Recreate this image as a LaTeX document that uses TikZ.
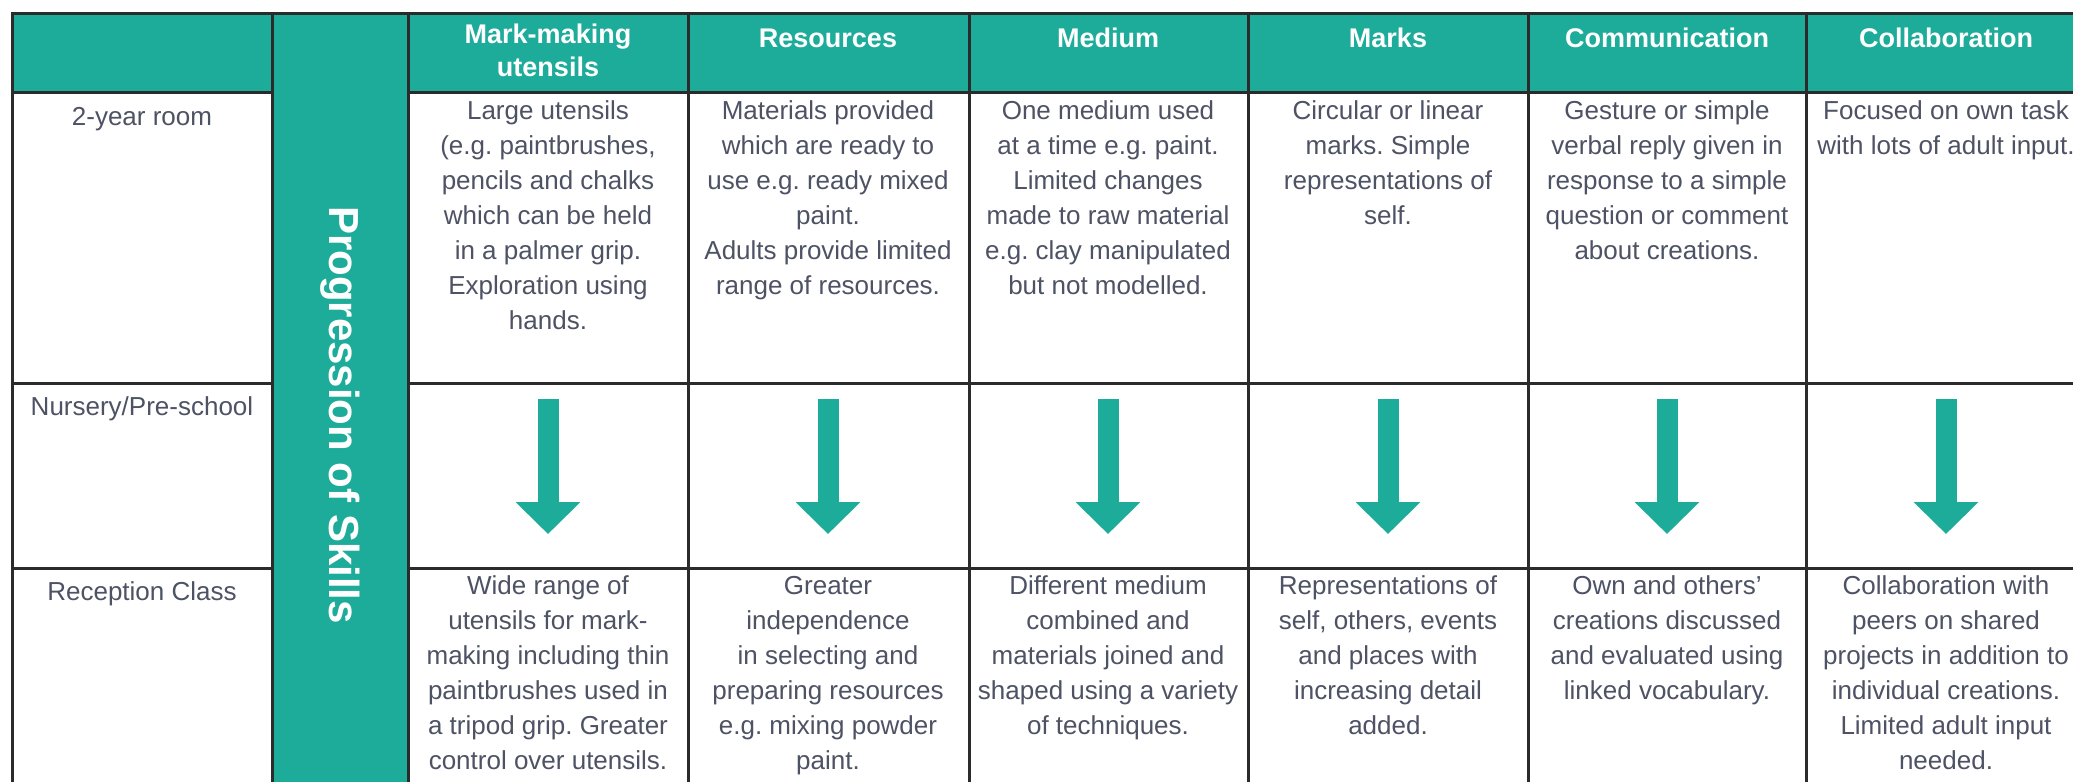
\documentclass[tikz,border=0pt]{standalone}
\usepackage{fontspec}
\setmainfont{Liberation Sans}
\usetikzlibrary{arrows.meta}
\definecolor{skillteal}{HTML}{1EAC9A}
\definecolor{celltext}{HTML}{4D5264}
\definecolor{gridline}{HTML}{2B2B2B}
\frenchspacing

\begin{document}
\begin{tikzpicture}[x=0.5pt, y=-0.5pt,
    head/.style={anchor=north, align=center, inner sep=0pt, text=white, font=\fontsize{13.5}{16.5}\selectfont\bfseries, execute at begin node=\strut},
    cell/.style={anchor=north, align=center, inner sep=0pt, text=celltext, font=\fontsize{13}{17.5}\selectfont, execute at begin node=\strut},
    gridrule/.style={draw=gridline, line width=1.5pt, line cap=rect},
    progarrow/.style={draw=skillteal, line width=10.5pt, -{Triangle[width=31.5pt,length=16pt]}}]
        \useasboundingbox (0,0) rectangle (2073,782);
        \clip (0,0) rectangle (2073,782);
        \fill[white] (0,0) rectangle (2073,782);
        % teal header band and the side column
        \fill[skillteal] (12,13) rectangle (2086,92);
        \fill[skillteal] (272,13) rectangle (408,830);
        % table rules
        \draw[gridrule] (12,13) -- (2086,13);
        \draw[gridrule] (12,92) -- (272,92) (408,92) -- (2086,92);
        \draw[gridrule] (12,383) -- (272,383) (408,383) -- (2086,383);
        \draw[gridrule] (12,568) -- (272,568) (408,568) -- (2086,568);
        \draw[gridrule] (12,13) -- (12,830);
        \draw[gridrule] (272,13) -- (272,830);
        \draw[gridrule] (408,13) -- (408,830);
        \draw[gridrule] (688,13) -- (688,830);
        \draw[gridrule] (969,13) -- (969,830);
        \draw[gridrule] (1248,13) -- (1248,830);
        \draw[gridrule] (1528,13) -- (1528,830);
        \draw[gridrule] (1806,13) -- (1806,830);
        % header
        \node[head] (hmark) at (548,24) {Mark-making\\utensils};
        \node[head] (hres) at (828,24) {Resources};
        \node[head] (hmed) at (1108,24) {Medium};
        \node[head] (hmarks) at (1388,24) {Marks};
        \node[head] (hcomm) at (1667,24) {Communication};
        \node[head] (hcoll) at (1946,24) {Collaboration};
        \node[rotate=-90, text=white, inner sep=0pt, font=\fontsize{21}{21}\selectfont\bfseries] (prog) at (340,415) {Progression of Skills};
        % row labels
        \node[cell] (twoyr) at (142,100.5) {2-year room};
        \node[cell] (nursery) at (142,390.5) {Nursery/Pre-school};
        \node[cell] (recep) at (142,575.5) {Reception Class};
        % 2-year room
        \node[cell] (twomark) at (548,100.5) {Large utensils\\(e.g. paintbrushes,\\pencils and chalks\\which can be held\\in a palmer grip.\\Exploration using\\hands.};
        \node[cell] (twores) at (828,100.5) {Materials provided\\which are ready to\\use e.g. ready mixed\\paint.\\Adults provide limited\\range of resources.};
        \node[cell] (twomed) at (1108,100.5) {One medium used\\at a time e.g. paint.\\Limited changes\\made to raw material\\e.g. clay manipulated\\but not modelled.};
        \node[cell] (twomarks) at (1388,100.5) {Circular or linear\\marks. Simple\\representations of\\self.};
        \node[cell] (twocomm) at (1667,100.5) {Gesture or simple\\verbal reply given in\\response to a simple\\question or comment\\about creations.};
        \node[cell] (twocoll) at (1946,100.5) {Focused on own task\\with lots of adult input.};
        % nursery arrows
        \coordinate (amark) at (548,399);  \coordinate (amarkend) at (548,534);
        \coordinate (ares) at (828,399);   \coordinate (aresend) at (828,534);
        \coordinate (amed) at (1108,399);  \coordinate (amedend) at (1108,534);
        \coordinate (amarks) at (1388,399); \coordinate (amarksend) at (1388,534);
        \coordinate (acomm) at (1667,399); \coordinate (acommend) at (1667,534);
        \coordinate (acoll) at (1946,399); \coordinate (acollend) at (1946,534);
        \draw[progarrow] (amark) -- (amarkend);
        \draw[progarrow] (ares) -- (aresend);
        \draw[progarrow] (amed) -- (amedend);
        \draw[progarrow] (amarks) -- (amarksend);
        \draw[progarrow] (acomm) -- (acommend);
        \draw[progarrow] (acoll) -- (acollend);
        % reception class
        \node[cell] (recmark) at (548,575.5) {Wide range of\\utensils for mark-\\making including thin\\paintbrushes used in\\a tripod grip. Greater\\control over utensils.};
        \node[cell] (recres) at (828,575.5) {Greater\\independence\\in selecting and\\preparing resources\\e.g. mixing powder\\paint.};
        \node[cell] (recmed) at (1108,575.5) {Different medium\\combined and\\materials joined and\\shaped using a variety\\of techniques.};
        \node[cell] (recmarks) at (1388,575.5) {Representations of\\self, others, events\\and places with\\increasing detail\\added.};
        \node[cell] (reccomm) at (1667,575.5) {Own and others’\\creations discussed\\and evaluated using\\linked vocabulary.};
        \node[cell] (reccoll) at (1946,575.5) {Collaboration with\\peers on shared\\projects in addition to\\individual creations.\\Limited adult input\\needed.};
    \end{tikzpicture}
\end{document}
